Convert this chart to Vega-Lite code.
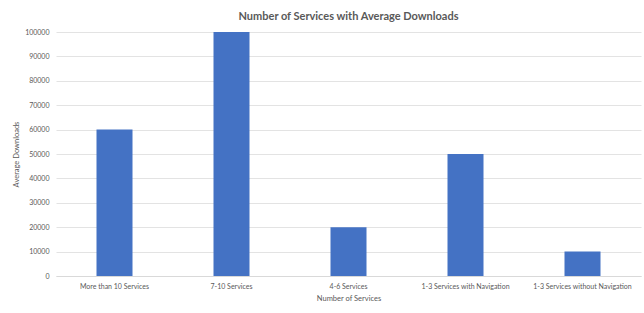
{
  "$schema": "https://vega.github.io/schema/vega-lite/v6.json",
  "autosize": "none",
  "width": 585,
  "height": 244,
  "padding": {"left": 56, "top": 32, "right": 3, "bottom": 37},
  "background": "white",
  "title": {
    "text": "Number of Services with Average Downloads",
    "font": "Lato",
    "fontSize": 11,
    "fontWeight": "bold",
    "color": "#595959",
    "anchor": "middle",
    "offset": 6
  },
  "data": {
    "values": [
      {"category": "More than 10 Services", "downloads": 60000},
      {"category": "7-10 Services", "downloads": 100000},
      {"category": "4-6 Services", "downloads": 20000},
      {"category": "1-3 Services with Navigation", "downloads": 50000},
      {"category": "1-3 Services without Navigation", "downloads": 10000}
    ]
  },
  "mark": {"type": "bar", "color": "#4472C4", "width": 36},
  "encoding": {
    "x": {
      "field": "category",
      "type": "nominal",
      "sort": null,
      "scale": {"paddingInner": 0, "paddingOuter": 0},
      "axis": {
        "title": "Number of Services",
        "labelAngle": 0,
        "ticks": false,
        "domainColor": "#d9d9d9",
        "labelPadding": 6,
        "titlePadding": 5
      }
    },
    "y": {
      "field": "downloads",
      "type": "quantitative",
      "scale": {"domain": [0, 100000]},
      "axis": {
        "title": "Average Downloads",
        "values": [0, 10000, 20000, 30000, 40000, 50000, 60000, 70000, 80000, 90000, 100000],
        "format": "d",
        "ticks": false,
        "domain": false,
        "gridColor": "#e3e3e3",
        "labelPadding": 7,
        "titlePadding": 4
      }
    }
  },
  "config": {
    "view": {"stroke": null},
    "axis": {
      "labelFont": "Lato",
      "labelFontSize": 7,
      "labelColor": "#595959",
      "titleFont": "Lato",
      "titleFontSize": 7.5,
      "titleFontWeight": "normal",
      "titleColor": "#595959"
    }
  }
}
